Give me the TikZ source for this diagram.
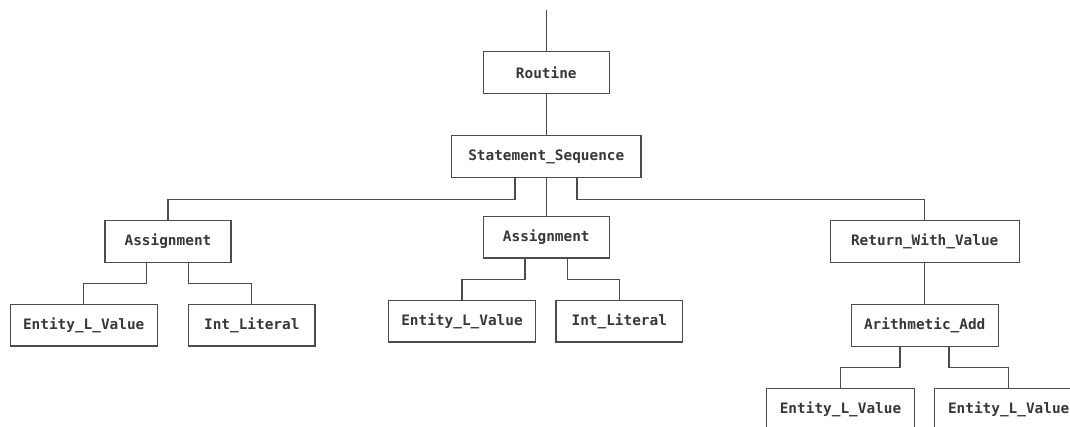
\documentclass[tikz,border=0pt]{standalone}
\usepackage{fontspec}
\setmonofont{DejaVu Sans Mono}
\begin{document}
\begin{tikzpicture}[x=1pt,y=-1pt,
  line width=1.1pt,
  treebox/.style={draw=black!70, fill=white, minimum height=41.6pt, inner sep=0pt,
    font=\ttfamily\bfseries\fontsize{14.4}{16}\selectfont, text=black!78},
  link/.style={draw=black!70}]
\useasboundingbox (0,0) rectangle (1070,426);
\clip (0,0) rectangle (1070,426);

% tree nodes
\node[treebox, minimum width=125.7pt] (routine) at (546.3,72.5) {Routine};
\node[treebox, minimum width=189.3pt] (seq) at (546.3,156.7) {Statement\_Sequence};
\node[treebox, minimum width=126pt] (asgA) at (168,241.5) {Assignment};
\node[treebox, minimum width=147.3pt] (lvalA) at (83.7,325.2) {Entity\_L\_Value};
\node[treebox, minimum width=126.3pt] (intA) at (251.8,325.2) {Int\_Literal};
\node[treebox, minimum width=126pt] (asgB) at (546.3,237.2) {Assignment};
\node[treebox, minimum width=147.3pt] (lvalB) at (462,321.2) {Entity\_L\_Value};
\node[treebox, minimum width=126.7pt] (intB) at (619.3,321.2) {Int\_Literal};
\node[treebox, minimum width=189.3pt] (ret) at (924.7,241.5) {Return\_With\_Value};
\node[treebox, minimum width=147.3pt] (add) at (924.7,325.5) {Arithmetic\_Add};
\node[treebox, minimum width=147.6pt] (lvalC) at (840.5,409.1) {Entity\_L\_Value};
\node[treebox, minimum width=147.6pt] (lvalD) at (1008.7,409.1) {Entity\_L\_Value};

\coordinate (top) at (546.3,10);

% connectors
\draw[link] (top) -- (routine.north);
\draw[link] (routine.south) -- (seq.north);
\draw[link] ([xshift=-31.3pt]seq.south) -- ++(0,21.7) -| (asgA.north);
\draw[link] (seq.south) -- (asgB.north);
\draw[link] ([xshift=30.7pt]seq.south) -- ++(0,21.7) -| (ret.north);

\draw[link] ([xshift=-21.3pt]asgA.south) -- ++(0,21) -| (lvalA.north);
\draw[link] ([xshift=20.3pt]asgA.south) -- ++(0,21) -| (intA.north);
\draw[link] ([xshift=-21.3pt]asgB.south) -- ++(0,20.5) -| (lvalB.north);
\draw[link] ([xshift=21pt]asgB.south) -- ++(0,20.5) -| (intB.north);

\draw[link] (ret.south) -- (add.north);
\draw[link] ([xshift=-24.7pt]add.south) -- ++(0,20.8) -| (lvalC.north);
\draw[link] ([xshift=24.3pt]add.south) -- ++(0,20.8) -| (lvalD.north);
\end{tikzpicture}
\end{document}
